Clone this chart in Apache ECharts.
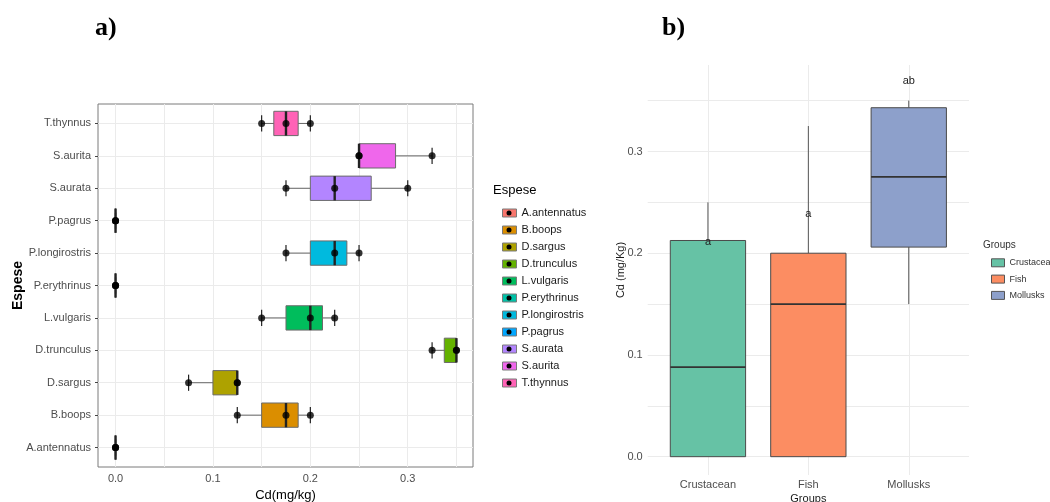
<!DOCTYPE html>
<html>
<head>
<meta charset="utf-8">
<script src="https://cdn.jsdelivr.net/npm/echarts@6/dist/echarts.min.js"></script>
<style>
  html, body { margin: 0; padding: 0; background: #fff; }
  #main { width: 1050px; height: 502px; }
</style>
</head>
<body>
<div id="main"></div>
<script>
// ---- panel a data (species, Cd mg/kg) ----
var speciesA = ['A.antennatus', 'B.boops', 'D.sargus', 'D.trunculus', 'L.vulgaris', 'P.erythrinus',
  'P.longirostris', 'P.pagrus', 'S.aurata', 'S.aurita', 'T.thynnus'];
var speciesColors = ['#F8766D', '#DB8E00', '#AEA200', '#64B200', '#00BD5C', '#00C1A7',
  '#00BADE', '#00A6FF', '#B385FF', '#EF67EB', '#FF63B6'];
// min, q1, median, q3, max
var boxA = [
  [0, 0, 0, 0, 0],
  [0.125, 0.15, 0.175, 0.1875, 0.2],
  [0.075, 0.1, 0.125, 0.125, 0.125],
  [0.325, 0.3375, 0.35, 0.35, 0.35],
  [0.15, 0.175, 0.2, 0.2125, 0.225],
  [0, 0, 0, 0, 0],
  [0.175, 0.2, 0.225, 0.2375, 0.25],
  [0, 0, 0, 0, 0],
  [0.175, 0.2, 0.225, 0.2625, 0.3],
  [0.25, 0.25, 0.25, 0.2875, 0.325],
  [0.15, 0.1625, 0.175, 0.1875, 0.2]
];
var pointsA = [
  [0, 0, 0],
  [0.125, 0.175, 0.2],
  [0.075, 0.125, 0.125],
  [0.325, 0.35, 0.35],
  [0.15, 0.2, 0.225],
  [0, 0, 0],
  [0.175, 0.225, 0.25],
  [0, 0, 0],
  [0.175, 0.225, 0.3],
  [0.25, 0.25, 0.325],
  [0.15, 0.175, 0.2]
];
var xTicksA = [0, 0.1, 0.2, 0.3];
var xGridA = [0, 0.05, 0.1, 0.15, 0.2, 0.25, 0.3, 0.35];
var yTicksA = [0, 1, 2, 3, 4, 5, 6, 7, 8, 9, 10];

// ---- panel b data (groups) ----
var groupsB = ['Crustacean', 'Fish', 'Mollusks'];
var groupColors = ['#66C2A5', '#FC8D62', '#8DA0CB'];
var boxB = [
  [0, 0, 0.088, 0.2125, 0.25],
  [0, 0, 0.15, 0.2, 0.325],
  [0.15, 0.206, 0.275, 0.343, 0.35]
];
var lettersB = ['a', 'a', 'ab'];
var letterPosB = [0.211, 0.239, 0.369];
var yTicksB = [0, 0.1, 0.2, 0.3];
var yGridB = [0, 0.05, 0.1, 0.15, 0.2, 0.25, 0.3, 0.35];
var xTicksB = [0, 1, 2];

var FONT = "'Liberation Sans', Arial, sans-serif";

function renderBoxA(params, api) {
  var cat = api.value(0);
  var lo = api.coord([api.value(1), cat]);
  var q1 = api.coord([api.value(2), cat]);
  var md = api.coord([api.value(3), cat]);
  var q3 = api.coord([api.value(4), cat]);
  var hi = api.coord([api.value(5), cat]);
  var band = api.size([0, 1])[1];
  var half = band * 0.375;
  var cap = band * 0.25;
  var y = lo[1];
  var col = api.visual('color');
  return {
    type: 'group',
    children: [
      { type: 'line', shape: { x1: lo[0], y1: y, x2: hi[0], y2: y }, style: { stroke: '#666', lineWidth: 1 } },
      { type: 'line', shape: { x1: lo[0], y1: y - cap, x2: lo[0], y2: y + cap }, style: { stroke: '#222', lineWidth: 1.2 } },
      { type: 'line', shape: { x1: hi[0], y1: y - cap, x2: hi[0], y2: y + cap }, style: { stroke: '#222', lineWidth: 1.2 } },
      { type: 'rect', shape: { x: q1[0], y: y - half, width: q3[0] - q1[0], height: half * 2 },
        style: { fill: col, stroke: '#6b6b6b', lineWidth: 1 } },
      { type: 'line', shape: { x1: md[0], y1: y - half, x2: md[0], y2: y + half }, style: { stroke: '#222', lineWidth: 2.4 } }
    ]
  };
}

function renderBoxB(params, api) {
  var cat = api.value(0);
  var lo = api.coord([cat, api.value(1)]);
  var q1 = api.coord([cat, api.value(2)]);
  var md = api.coord([cat, api.value(3)]);
  var q3 = api.coord([cat, api.value(4)]);
  var hi = api.coord([cat, api.value(5)]);
  var band = api.size([1, 0])[0];
  var half = band * 0.375;
  var x = lo[0];
  var col = api.visual('color');
  return {
    type: 'group',
    children: [
      { type: 'line', shape: { x1: x, y1: lo[1], x2: x, y2: q1[1] }, style: { stroke: '#555', lineWidth: 1 } },
      { type: 'line', shape: { x1: x, y1: q3[1], x2: x, y2: hi[1] }, style: { stroke: '#555', lineWidth: 1 } },
      { type: 'rect', shape: { x: x - half, y: q3[1], width: half * 2, height: q1[1] - q3[1] },
        style: { fill: col, stroke: '#4a4a4a', lineWidth: 1 } },
      { type: 'line', shape: { x1: x - half, y1: md[1], x2: x + half, y2: md[1] }, style: { stroke: '#333', lineWidth: 1.6 } }
    ]
  };
}

var series = [];
speciesA.forEach(function (name, i) {
  series.push({
    name: name,
    type: 'custom',
    xAxisIndex: 0,
    yAxisIndex: 0,
    itemStyle: { color: speciesColors[i] },
    renderItem: renderBoxA,
    encode: { x: [1, 2, 3, 4, 5], y: 0 },
    data: [[i].concat(boxA[i])],
    z: 2
  });
});

var pts = [];
pointsA.forEach(function (arr, i) {
  arr.forEach(function (v) { pts.push([v, i]); });
});
series.push({
  type: 'scatter',
  xAxisIndex: 0,
  yAxisIndex: 0,
  symbol: 'circle',
  symbolSize: 7,
  itemStyle: { color: '#000' },
  data: pts,
  z: 4
});

groupsB.forEach(function (name, i) {
  series.push({
    name: name,
    type: 'custom',
    xAxisIndex: 1,
    yAxisIndex: 1,
    itemStyle: { color: groupColors[i] },
    renderItem: renderBoxB,
    encode: { x: 0, y: [1, 2, 3, 4, 5] },
    data: [[i].concat(boxB[i])],
    z: 2
  });
});

series.push({
  type: 'custom',
  xAxisIndex: 1,
  yAxisIndex: 1,
  renderItem: function (params, api) {
    var p = api.coord([api.value(0), api.value(1)]);
    return {
      type: 'text',
      x: p[0],
      y: p[1],
      style: { text: lettersB[params.dataIndex], textAlign: 'center', textVerticalAlign: 'middle',
        fontSize: 11, fontFamily: FONT, fill: '#222' }
    };
  },
  data: letterPosB.map(function (v, i) { return [i, v]; }),
  z: 5
});

var chart = echarts.init(document.getElementById('main'), null, { renderer: 'canvas' });

var option = {
  backgroundColor: '#fff',
  animation: false,
  textStyle: { fontFamily: FONT },
  graphic: [
    { type: 'text', left: 95, top: 15, style: { text: 'a)', font: "bold 26px 'Liberation Serif', 'Times New Roman', serif", fill: '#000' } },
    { type: 'text', left: 662, top: 15, style: { text: 'b)', font: "bold 26px 'Liberation Serif', 'Times New Roman', serif", fill: '#000' } },
    { type: 'text', left: 493, top: 184, style: { text: 'Espese', fontSize: 13, fontFamily: FONT, fill: '#000' } },
    { type: 'text', left: 983, top: 240, style: { text: 'Groups', fontSize: 10, fontFamily: FONT, fill: '#333' } }
  ],
  legend: [
    {
      data: speciesA,
      orient: 'vertical',
      left: 497,
      top: 202.5,
      icon: 'rect',
      itemWidth: 14,
      itemHeight: 8,
      itemGap: 6,
      selectedMode: false,
      itemStyle: { borderColor: '#7a7a7a', borderWidth: 1 },
      textStyle: { fontSize: 11, color: '#1a1a1a', fontFamily: FONT }
    },
    {
      data: speciesA,
      orient: 'vertical',
      left: 501.5,
      top: 202.5,
      icon: 'circle',
      itemWidth: 5,
      itemHeight: 5,
      itemGap: 6,
      selectedMode: false,
      itemStyle: { color: '#000', borderWidth: 0 },
      textStyle: { fontSize: 11, color: 'rgba(0,0,0,0)', fontFamily: FONT }
    },
    {
      data: groupsB,
      orient: 'vertical',
      left: 986,
      top: 253.3,
      icon: 'rect',
      itemWidth: 13,
      itemHeight: 8,
      itemGap: 7.3,
      selectedMode: false,
      itemStyle: { borderColor: '#555', borderWidth: 1 },
      textStyle: { fontSize: 9, color: '#333', fontFamily: FONT }
    }
  ],
  grid: [
    { left: 98, top: 104, width: 375, height: 363, show: true, borderColor: '#7a7a7a', borderWidth: 1,
      backgroundColor: '#fff', containLabel: false, outerBoundsMode: 'none' },
    { left: 647.7, top: 65, width: 321.3, height: 410, containLabel: false, outerBoundsMode: 'none' }
  ],
  xAxis: [
    {
      gridIndex: 0,
      type: 'value',
      min: -0.018,
      max: 0.367,
      name: 'Cd(mg/kg)',
      nameLocation: 'middle',
      nameGap: 21.5,
      nameMoveOverlap: false,
      nameTextStyle: { fontSize: 13, color: '#000', fontFamily: FONT },
      axisLine: { show: false, onZero: false },
      axisTick: { show: false, customValues: xGridA },
      axisLabel: { customValues: xTicksA, margin: 6, fontSize: 11, color: '#4d4d4d',
        formatter: function (v) { return v.toFixed(1); } },
      splitLine: { show: true, lineStyle: { color: '#ebebeb', width: 1 } }
    },
    {
      gridIndex: 1,
      type: 'value',
      min: -0.6,
      max: 2.6,
      name: 'Groups',
      nameLocation: 'middle',
      nameGap: 18.5,
      nameMoveOverlap: false,
      nameTextStyle: { fontSize: 11, color: '#1a1a1a', fontFamily: FONT },
      axisLine: { show: false, onZero: false },
      axisTick: { show: false, customValues: xTicksB },
      axisLabel: { customValues: xTicksB, margin: 4, fontSize: 11, color: '#4d4d4d',
        formatter: function (v) { return groupsB[Math.round(v)]; } },
      splitLine: { show: true, lineStyle: { color: '#ebebeb', width: 1 } }
    }
  ],
  yAxis: [
    {
      gridIndex: 0,
      type: 'value',
      min: -0.6,
      max: 10.6,
      name: 'Espese',
      nameLocation: 'middle',
      nameRotate: 90,
      nameGap: 73,
      nameMoveOverlap: false,
      nameTextStyle: { fontSize: 14, fontWeight: 'bold', color: '#000', fontFamily: FONT },
      axisLine: { show: false, onZero: false },
      axisTick: { show: true, customValues: yTicksA, length: 3, lineStyle: { color: '#444' } },
      axisLabel: { customValues: yTicksA, margin: 7, fontSize: 11, color: '#4d4d4d',
        formatter: function (v) { return speciesA[Math.round(v)]; } },
      splitLine: { show: true, lineStyle: { color: '#ebebeb', width: 1 } }
    },
    {
      gridIndex: 1,
      type: 'value',
      min: -0.018,
      max: 0.385,
      name: 'Cd (mg/Kg)',
      nameLocation: 'middle',
      nameRotate: 90,
      nameGap: 21.5,
      nameMoveOverlap: false,
      nameTextStyle: { fontSize: 11, color: '#1a1a1a', fontFamily: FONT },
      axisLine: { show: false, onZero: false },
      axisTick: { show: false, customValues: yGridB },
      axisLabel: { customValues: yTicksB, margin: 5, fontSize: 11, color: '#4d4d4d',
        formatter: function (v) { return v.toFixed(1); } },
      splitLine: { show: true, lineStyle: { color: '#ebebeb', width: 1 } }
    }
  ],
  series: series
};

chart.setOption(option);
</script>
</body>
</html>
